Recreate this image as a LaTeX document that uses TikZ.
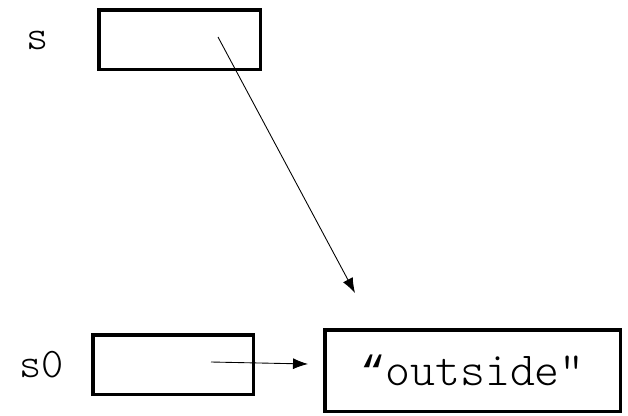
\documentclass[tikz,border=0pt]{standalone}
\usepackage{fontspec}
\setmonofont{Latin Modern Mono Light}
\newfontfamily\quotemono{Liberation Mono}
\usetikzlibrary{arrows.meta}

\begin{document}
\begin{tikzpicture}[cell/.style={rectangle, draw=black, line width=.07cm, inner sep=0pt}, varname/.style={font=\ttfamily\fontsize{24}{24}\selectfont}, ptr/.style={line width=.5pt, -{Latex[length=.3cm, width=.22cm]}}]
            \useasboundingbox (0, 0) rectangle (12.56, 8.3);
            \node [varname] (sname) at (.76, 7.5) {s};
            \node [cell, minimum width=3.23cm, minimum height=1.19cm] (sbox) at (3.59, 7.51) {};
            \node [varname] (s0name) at (.84, 1.0) {s0};
            \node [cell, minimum width=3.21cm, minimum height=1.19cm] (s0box) at (3.46, 1.01) {};
            \node [cell, minimum width=5.91cm, minimum height=1.63cm, font=\ttfamily\fontsize{27}{27}\selectfont] (str) at (9.45, .89) {{\quotemono\fontsize{24}{24}\selectfont “}outside"};
            \coordinate (sref) at (4.36, 7.56);
            \coordinate (stip) at (7.10, 2.44);
            \coordinate (s0ref) at (4.22, 1.06);
            \coordinate (s0tip) at (6.16, 1.02);
            \draw [ptr] (sref) -- (stip);
            \draw [ptr] (s0ref) -- (s0tip);
        \end{tikzpicture}
\end{document}
